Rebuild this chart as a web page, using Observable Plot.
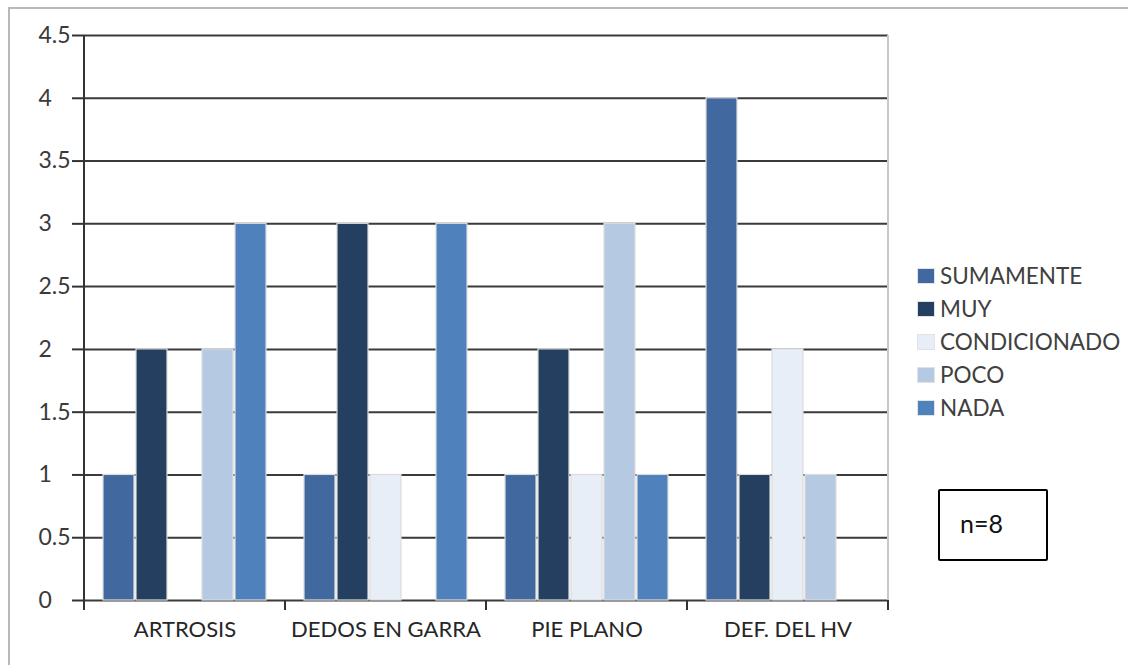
<!DOCTYPE html>
<html>
<head>
<meta charset="utf-8">
<script src="https://cdn.jsdelivr.net/npm/d3@7"></script>
<script src="https://cdn.jsdelivr.net/npm/@observablehq/plot@0.6"></script>
<style>
  html, body { margin: 0; padding: 0; background: #fff; }
  #wrap { position: relative; width: 1128px; height: 665px; overflow: hidden; font-family: Lato, "Open Sans", sans-serif; }
  #border { position: absolute; left: 8px; top: 7px; width: 1300px; height: 900px;
            border-left: 2px solid #b8b8b8; border-top: 2px solid #b8b8b8; }
  #chart { position: absolute; left: 0; top: 0; }
  #legend { position: absolute; left: 917px; top: 259px; }
  .item { display: flex; align-items: center; height: 33px; font-size: 22.5px; color: #404040; }
  .sw { width: 18px; height: 16px; margin-right: 5px; box-sizing: border-box; border: 1px solid #e2e2e2; }
  #note { position: absolute; left: 938px; top: 489px; width: 106px; height: 68px;
          border: 2px solid #000; border-radius: 2px; background: #fff; }
  #note span { position: absolute; left: 20px; top: 17px; font-size: 25px; color: #111; }
</style>
</head>
<body>
<div id="wrap">
  <div id="border"></div>
  <div id="chart"></div>
  <div id="legend"></div>
  <div id="note"><span>n=8</span></div>
</div>
<script>
// Categories on the x axis and the five response levels
const categories = ["ARTROSIS", "DEDOS EN GARRA", "PIE PLANO", "DEF. DEL HV"];
const series = ["SUMAMENTE", "MUY", "CONDICIONADO", "POCO", "NADA"];
const colors = ["#4169a0", "#243f60", "#e8eef7", "#b5c9e3", "#4f81bd"];

// Counts per category, one array per response level
const sumamente    = [1, 1, 1, 4];
const muy          = [2, 3, 2, 1];
const condicionado = [0, 1, 1, 2];
const poco         = [2, 0, 3, 1];
const nada         = [3, 3, 1, 0];

const yTicks = [0, 0.5, 1, 1.5, 2, 2.5, 3, 3.5, 4, 4.5];

const values = [sumamente, muy, condicionado, poco, nada];
const rows = categories.flatMap((c, i) =>
  series.map((s, j) => ({category: c, series: s, value: values[j][i]}))
);

const chart = Plot.plot({
  width: 1128,
  height: 665,
  marginLeft: 83,
  marginRight: 240,
  marginTop: 35,
  marginBottom: 65,
  style: {fontFamily: "Lato, 'Open Sans', sans-serif", background: "transparent"},
  fx: {domain: categories, padding: 0},
  x: {domain: series, paddingInner: 0.075, paddingOuter: 0.54, axis: null},
  y: {domain: [0, 4.5]},
  color: {domain: series, range: colors},
  marks: [
    Plot.gridY(yTicks, {stroke: "#3a3a3a", strokeOpacity: 1, strokeWidth: 2}),
    Plot.barY(rows, {
      fx: "category", x: "series", y: "value", fill: "series",
      stroke: "#dcdcdc", strokeWidth: 1.2
    }),
    // tick marks only
    Plot.axisY(yTicks, {
      anchor: "left", tickSize: 12, stroke: "#333", strokeWidth: 2,
      tickFormat: () => "", label: null
    }),
    // left-aligned tick labels
    Plot.axisY(yTicks, {
      anchor: "left", tickSize: 0, tickPadding: 0, textAnchor: "start", dx: -46,
      fontSize: 23, fill: "#3a3a3a", tickFormat: d => String(d), label: null
    }),
    Plot.axisFx({
      anchor: "bottom", tickSize: 0, tickPadding: 21, fontSize: 22,
      fill: "#262626", label: null
    })
  ]
});

document.getElementById("chart").appendChild(chart);

// Vertical axis line, category separator ticks and right edge of the plot area
const fx = chart.scale("fx");
const y = chart.scale("y");
const bounds = categories.map(c => fx.apply(c));
bounds.push(fx.apply(categories[categories.length - 1]) + fx.bandwidth);
const y0 = y.apply(0), yTop = y.apply(4.5);
const svg = d3.select(chart);
const g = svg.append("g").attr("stroke-linecap", "butt");
g.append("line")
  .attr("x1", bounds[bounds.length - 1]).attr("x2", bounds[bounds.length - 1])
  .attr("y1", yTop).attr("y2", y0)
  .attr("stroke", "#c8c8c8").attr("stroke-width", 2);
g.append("line")
  .attr("x1", bounds[0]).attr("x2", bounds[0])
  .attr("y1", yTop).attr("y2", y0 + 10)
  .attr("stroke", "#333").attr("stroke-width", 2);
g.selectAll("line.sep").data(bounds.slice(1)).join("line")
  .attr("class", "sep")
  .attr("x1", d => d).attr("x2", d => d)
  .attr("y1", y0).attr("y2", y0 + 10)
  .attr("stroke", "#333").attr("stroke-width", 2);

// Legend
const legend = d3.select("#legend");
series.forEach((s, i) => {
  const item = legend.append("div").attr("class", "item");
  item.append("div").attr("class", "sw").style("background", colors[i]);
  item.append("span").text(s);
});
</script>
</body>
</html>
